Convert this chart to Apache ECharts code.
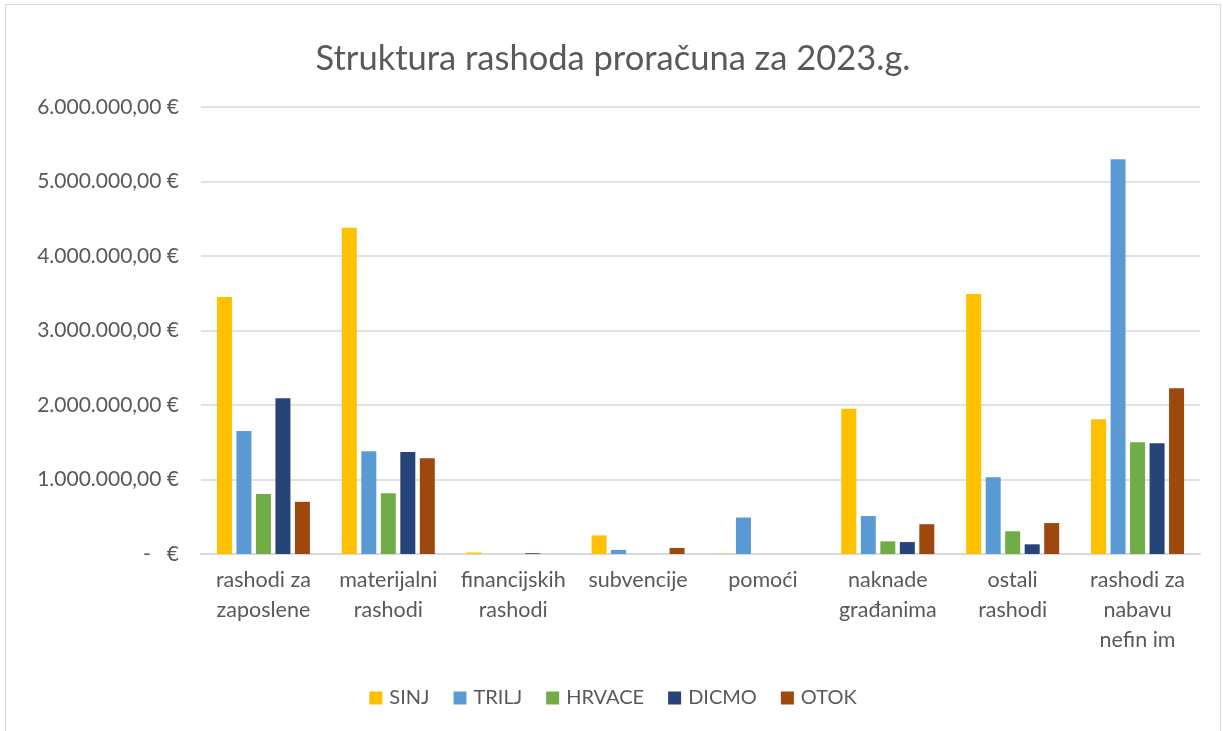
<!DOCTYPE html>
<html>
<head>
<meta charset="utf-8">
<script src="https://cdn.jsdelivr.net/npm/echarts@6/dist/echarts.min.js"></script>
<style>
  html, body { margin: 0; padding: 0; background: #fff; }
  #frame {
    position: absolute; left: 5px; top: 4px; width: 1216px; height: 730px;
    border: 1px solid #d9d9d9; box-sizing: border-box;
  }
  #chart { width: 100%; height: 100%; }
</style>
</head>
<body>
<div id="frame"><div id="chart"></div></div>
<script>
const categories = [
  'rashodi za\nzaposlene',
  'materijalni\nrashodi',
  'financijskih\nrashodi',
  'subvencije',
  'pomoći',
  'naknade\ngrađanima',
  'ostali\nrashodi',
  'rashodi za\nnabavu\nnefin im'
];
const seriesNames = ['SINJ', 'TRILJ', 'HRVACE', 'DICMO', 'OTOK'];
const seriesColors = ['#ffc000', '#5b9bd5', '#70ad47', '#264478', '#9e480e'];

const sinj   = [3450000, 4380000, 20000, 250000, 5000, 1950000, 3490000, 1810000];
const trilj  = [1650000, 1380000, 0, 55000, 490000, 510000, 1030000, 5300000];
const hrvace = [805000, 815000, 0, 0, 0, 170000, 305000, 1500000];
const dicmo  = [2090000, 1370000, 10000, 0, 0, 160000, 130000, 1485000];
const otok   = [700000, 1285000, 0, 80000, 0, 400000, 415000, 2225000];
const seriesValues = [sinj, trilj, hrvace, dicmo, otok];

const yTicks = [0, 1000000, 2000000, 3000000, 4000000, 5000000, 6000000];

function euro(v) {
  if (v === 0) return '-   €';
  const s = String(Math.round(v)).replace(/\B(?=(\d{3})+(?!\d))/g, '.');
  return s + ',00 €';
}

const chart = echarts.init(document.getElementById('chart'));
const textColor = '#595959';
const font = 'Lato, "Open Sans", sans-serif';

chart.setOption({
  animation: false,
  textStyle: { fontFamily: font },
  title: {
    text: 'Struktura rashoda proračuna za 2023.g.',
    left: 'center',
    top: 31,
    textStyle: { color: textColor, fontSize: 34.5, fontWeight: 'normal', fontFamily: font }
  },
  legend: {
    bottom: 20,
    left: 'center',
    itemWidth: 13,
    itemHeight: 13,
    itemGap: 24,
    icon: 'rect',
    textStyle: { color: textColor, fontSize: 20, fontFamily: font, padding: [0, 0, 0, 2] },
    data: seriesNames
  },
  grid: {
    left: 195,
    right: 20,
    top: 102,
    bottom: 179,
    containLabel: false
  },
  xAxis: {
    type: 'category',
    data: categories,
    axisTick: { show: false },
    axisLine: { lineStyle: { color: '#d9d9d9', width: 2 } },
    axisLabel: {
      color: textColor,
      fontSize: 21.5,
      lineHeight: 30,
      margin: 11,
      interval: 0,
      fontFamily: font
    }
  },
  yAxis: {
    type: 'value',
    min: yTicks[0],
    max: yTicks[yTicks.length - 1],
    interval: 1000000,
    axisLine: { show: false },
    axisTick: { show: false },
    splitLine: { lineStyle: { color: '#d9d9d9', width: 1.5 } },
    axisLabel: {
      color: textColor,
      fontSize: 21,
      margin: 22,
      fontFamily: font,
      formatter: euro
    }
  },
  series: seriesNames.map((name, i) => ({
    name,
    type: 'bar',
    data: seriesValues[i],
    barWidth: 15,
    barGap: '30%',
    itemStyle: { color: seriesColors[i] }
  }))
});
</script>
</body>
</html>
